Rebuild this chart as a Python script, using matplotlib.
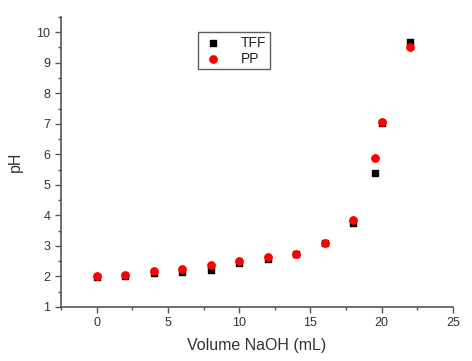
import matplotlib.pyplot as plt
import numpy as np

plt.rcParams['font.family'] = ['Liberation Sans', 'DejaVu Sans']

# Volumen NaOH (mL) y pH
volumen = [0, 2, 4, 6, 8, 10, 12, 14, 16, 18, 19.5, 20, 22]
ph_tff = [1.97, 2.02, 2.10, 2.15, 2.20, 2.45, 2.56, 2.72, 3.10, 3.75, 5.39, 7.02, 9.67]
ph_pp = [2.00, 2.06, 2.17, 2.23, 2.36, 2.51, 2.62, 2.72, 3.10, 3.83, 5.88, 7.07, 9.51]

gris = '#555555'
texto = '#333333'

fig = plt.figure(figsize=(4.72, 3.61), dpi=100)
ax = fig.add_axes([0.129, 0.150, 0.831, 0.803])

ax.scatter(volumen, ph_tff, marker='s', s=22, color='black', label='TFF', zorder=3)
ax.scatter(volumen, ph_pp, marker='o', s=28, color='red', label='PP', zorder=4)

ax.set_xlim(-2.5, 25)
ax.set_ylim(1, 10.5)
ax.set_xticks([0, 5, 10, 15, 20, 25])
ax.set_xticks(np.arange(-2.5, 25.1, 2.5), minor=True)
ax.set_yticks(range(1, 11))
ax.set_yticks(np.arange(1, 10.6, 0.5), minor=True)

for s in ['top', 'right']:
    ax.spines[s].set_visible(False)
for s in ['left', 'bottom']:
    ax.spines[s].set_color(gris)
    ax.spines[s].set_linewidth(1.2)

ax.tick_params(which='major', direction='out', length=4, width=1, color=gris,
               labelsize=9, labelcolor=texto)
ax.tick_params(which='minor', direction='out', length=2.5, width=1, color=gris)

ax.set_xlabel('Volume NaOH (mL)', fontsize=11.5, color=texto, labelpad=6)
ax.set_ylabel('pH', fontsize=11.5, color=texto, labelpad=10)

l = ax.legend(loc='upper left', bbox_to_anchor=(0.35, 0.948), fontsize=10,
              frameon=True, fancybox=False, edgecolor='#333333',
              handletextpad=1.2, borderpad=0.25, labelspacing=0.15,
              handlelength=1.6, scatterpoints=1, borderaxespad=0)
l.get_frame().set_linewidth(1.0)
for t in l.get_texts():
    t.set_color('#222222')

plt.savefig('out.png', dpi=100)
